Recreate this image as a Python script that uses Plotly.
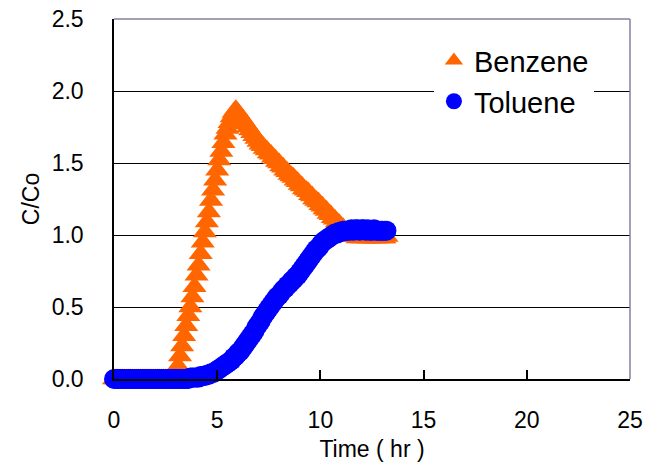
import plotly.graph_objects as go

# Time (hr), sampled every 0.1 hr
time_hr = [
    0.0, 0.1, 0.2, 0.3, 0.4, 0.5, 0.6, 0.7, 0.8, 0.9,
    1.0, 1.1, 1.2, 1.3, 1.4, 1.5, 1.6, 1.7, 1.8, 1.9,
    2.0, 2.1, 2.2, 2.3, 2.4, 2.5, 2.6, 2.7, 2.8, 2.9,
    3.0, 3.1, 3.2, 3.3, 3.4, 3.5, 3.6, 3.7, 3.8, 3.9,
    4.0, 4.1, 4.2, 4.3, 4.4, 4.5, 4.6, 4.7, 4.8, 4.9,
    5.0, 5.1, 5.2, 5.3, 5.4, 5.5, 5.6, 5.7, 5.8, 5.9,
    6.0, 6.1, 6.2, 6.3, 6.4, 6.5, 6.6, 6.7, 6.8, 6.9,
    7.0, 7.1, 7.2, 7.3, 7.4, 7.5, 7.6, 7.7, 7.8, 7.9,
    8.0, 8.1, 8.2, 8.3, 8.4, 8.5, 8.6, 8.7, 8.8, 8.9,
    9.0, 9.1, 9.2, 9.3, 9.4, 9.5, 9.6, 9.7, 9.8, 9.9,
    10.0, 10.1, 10.2, 10.3, 10.4, 10.5, 10.6, 10.7, 10.8, 10.9,
    11.0, 11.1, 11.2, 11.3, 11.4, 11.5, 11.6, 11.7, 11.8, 11.9,
    12.0, 12.1, 12.2, 12.3, 12.4, 12.5, 12.6, 12.7, 12.8, 12.9,
    13.0, 13.1, 13.2,
]

benzene = [
    0.00, 0.00, 0.00, 0.00, 0.00, 0.00, 0.00, 0.00, 0.00, 0.00,
    0.00, 0.00, 0.00, 0.00, 0.00, 0.00, 0.00, 0.00, 0.00, 0.00,
    0.00, 0.00, 0.00, 0.00, 0.00, 0.00, 0.00, 0.00, 0.00, 0.00,
    0.02, 0.09, 0.16, 0.23, 0.30, 0.37, 0.44, 0.50, 0.57, 0.64,
    0.72, 0.79, 0.87, 0.95, 1.02, 1.09, 1.16, 1.24, 1.31, 1.38,
    1.45, 1.52, 1.58, 1.64, 1.70, 1.74, 1.78, 1.82, 1.85, 1.87,
    1.85, 1.83, 1.81, 1.79, 1.77, 1.75, 1.73, 1.71, 1.69, 1.67,
    1.65, 1.63, 1.62, 1.60, 1.59, 1.57, 1.56, 1.54, 1.53, 1.51,
    1.50, 1.48, 1.47, 1.45, 1.44, 1.42, 1.41, 1.40, 1.38, 1.37,
    1.35, 1.34, 1.32, 1.31, 1.30, 1.28, 1.27, 1.25, 1.24, 1.23,
    1.21, 1.20, 1.18, 1.17, 1.15, 1.14, 1.12, 1.11, 1.09, 1.08,
    1.06, 1.05, 1.03, 1.02, 1.01, 1.00, 0.99, 0.99, 0.98, 0.99,
    0.98, 0.98, 0.99, 0.98, 0.98, 0.99, 0.98, 0.98, 0.98, 0.99,
    0.98, 0.98, 0.99,
]

toluene = [
    0.00, 0.00, 0.00, 0.00, 0.00, 0.00, 0.00, 0.00, 0.00, 0.00,
    0.00, 0.00, 0.00, 0.00, 0.00, 0.00, 0.00, 0.00, 0.00, 0.00,
    0.00, 0.00, 0.00, 0.00, 0.00, 0.00, 0.00, 0.00, 0.00, 0.00,
    0.00, 0.00, 0.00, 0.00, 0.00, 0.00, 0.00, 0.01, 0.01, 0.01,
    0.01, 0.01, 0.02, 0.02, 0.02, 0.03, 0.03, 0.04, 0.04, 0.05,
    0.06, 0.07, 0.08, 0.09, 0.10, 0.11, 0.12, 0.13, 0.15, 0.16,
    0.18, 0.19, 0.21, 0.23, 0.25, 0.27, 0.29, 0.31, 0.33, 0.36,
    0.38, 0.40, 0.43, 0.45, 0.47, 0.49, 0.51, 0.53, 0.55, 0.57,
    0.58, 0.60, 0.62, 0.63, 0.65, 0.66, 0.68, 0.69, 0.71, 0.72,
    0.74, 0.76, 0.78, 0.80, 0.82, 0.84, 0.86, 0.88, 0.90, 0.91,
    0.93, 0.95, 0.96, 0.97, 0.98, 0.99, 1.00, 1.01, 1.01, 1.02,
    1.02, 1.03, 1.03, 1.03, 1.03, 1.04, 1.03, 1.04, 1.04, 1.03,
    1.04, 1.04, 1.03, 1.04, 1.03, 1.03, 1.04, 1.03, 1.03, 1.03,
    1.03, 1.03, 1.03,
]

x_ticks = [0, 5, 10, 15, 20, 25]
y_ticks = [0.0, 0.5, 1.0, 1.5, 2.0, 2.5]
y_tick_text = ["0.0", "0.5", "1.0", "1.5", "2.0", "2.5"]

FONT = "Arial, 'Liberation Sans', sans-serif"

fig = go.Figure()
fig.add_trace(go.Scatter(
    x=time_hr, y=benzene, name="Benzene", mode="markers",
    marker=dict(symbol="triangle-up", size=21, color="#FF6600", line=dict(width=0)),
    cliponaxis=False,
))
fig.add_trace(go.Scatter(
    x=time_hr, y=toluene, name="Toluene", mode="markers",
    marker=dict(symbol="circle", size=20, color="#0000FF", line=dict(width=0)),
    cliponaxis=False,
))

fig.update_layout(
    width=658, height=463,
    margin=dict(l=114, r=28, t=19, b=84, autoexpand=False),
    paper_bgcolor="white", plot_bgcolor="white",
    font=dict(family=FONT, size=23, color="black"),
    showlegend=True,
    legend=dict(
        x=0.62, y=0.955, xanchor="left", yanchor="top",
        bgcolor="white", borderwidth=0,
        font=dict(family=FONT, size=29, color="black"),
        tracegroupgap=0, itemsizing="trace",
    ),
    xaxis=dict(
        range=[0, 25], tickvals=x_ticks, ticktext=[str(v) for v in x_ticks],
        ticks="inside", ticklen=9, tickwidth=1.5, tickcolor="black",
        showline=True, linecolor="black", linewidth=1.5,
        showgrid=False, zeroline=False, automargin=False,
        ticklabelstandoff=20,
        title=dict(text="Time ( hr )", font=dict(size=23), standoff=9),
    ),
    yaxis=dict(
        range=[0, 2.5], tickvals=y_ticks, ticktext=y_tick_text,
        ticks="", showline=True, linecolor="black", linewidth=1.5,
        showgrid=True, gridcolor="black", gridwidth=1,
        zeroline=False, automargin=False,
        ticklabelstandoff=24,
        title=dict(text="C/Co", font=dict(size=23), standoff=6),
    ),
    shapes=[
        dict(type="line", xref="paper", yref="paper", x0=0, x1=1, y0=1, y1=1,
             line=dict(color="#8080A0", width=1.5), layer="above"),
        dict(type="line", xref="paper", yref="paper", x0=1, x1=1, y0=0, y1=1,
             line=dict(color="#8080A0", width=1.5), layer="above"),
    ],
)

fig.write_html("out.html")
